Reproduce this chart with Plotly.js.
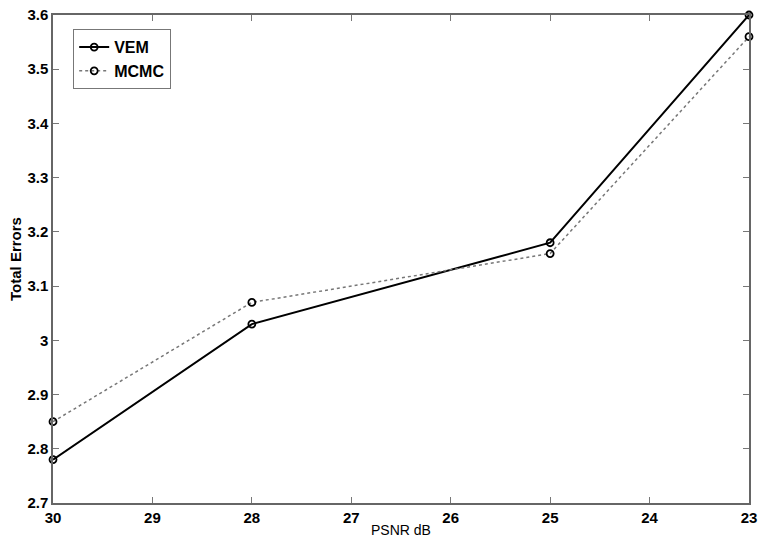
<!DOCTYPE html>
<html><head><meta charset="utf-8">
<script src="https://cdn.plot.ly/plotly-3.0.1.min.js"></script>
<style>body{margin:0;background:#fff}#c{width:760px;height:553px}</style>
</head><body><div id="c"></div>
<script>
const psnr = [30, 28, 25, 23];
const vem = [2.78, 3.03, 3.18, 3.6];
const mcmc = [2.85, 3.07, 3.16, 3.56];
const xTicks = [30, 29, 28, 27, 26, 25, 24, 23];
const yTicks = [2.7, 2.8, 2.9, 3.0, 3.1, 3.2, 3.3, 3.4, 3.5, 3.6];
const yTickText = ['2.7','2.8','2.9','3','3.1','3.2','3.3','3.4','3.5','3.6'];

const F = '"Liberation Sans Narrow", "Liberation Sans", Arial, sans-serif';
const traces = [
  {x: psnr, y: vem, name: 'VEM', mode: 'lines+markers', cliponaxis: false,
   line: {color: '#000', width: 2},
   marker: {symbol: 'circle-open', size: 7, color: '#000', line: {width: 1.8}}},
  {x: psnr, y: mcmc, name: 'MCMC', mode: 'lines+markers', cliponaxis: false,
   line: {color: '#777', width: 1.5, dash: 'dot'},
   marker: {symbol: 'circle-open', size: 7, color: '#000', line: {width: 1.8}}}
];
const axisCommon = {showgrid: false, zeroline: false, showline: true, linecolor: '#666', linewidth: 1.5,
  mirror: 'ticks', ticks: 'inside', ticklen: 6, tickcolor: '#777', tickwidth: 1,
  tickfont: {family: F, size: 15, color: '#000', weight: 'bold'}};
const layout = {
  width: 760, height: 553,
  margin: {l: 53, r: 11, t: 15, b: 50},
  paper_bgcolor: '#fff', plot_bgcolor: '#fff',
  showlegend: true,
  legend: {x: 0.029, y: 0.971, xanchor: 'left', yanchor: 'top', bgcolor: '#fff',
    bordercolor: '#777', borderwidth: 1, font: {family: F, size: 16, color: '#000', weight: 'bold'},
    itemwidth: 30, tracegroupgap: 0},
  xaxis: Object.assign({}, axisCommon, {range: [30, 23], tickvals: xTicks, ticktext: xTicks.map(String),
    title: {text: 'PSNR dB', font: {family: F, size: 14, color: '#000'}, standoff: 0}}),
  yaxis: Object.assign({}, axisCommon, {range: [2.7, 3.6], tickvals: yTicks, ticktext: yTickText,
    title: {text: 'Total Errors', font: {family: F, size: 15, color: '#000', weight: 'bold'}, standoff: 2}})
};
Plotly.newPlot('c', traces, layout, {displayModeBar: false});
</script></body></html>
